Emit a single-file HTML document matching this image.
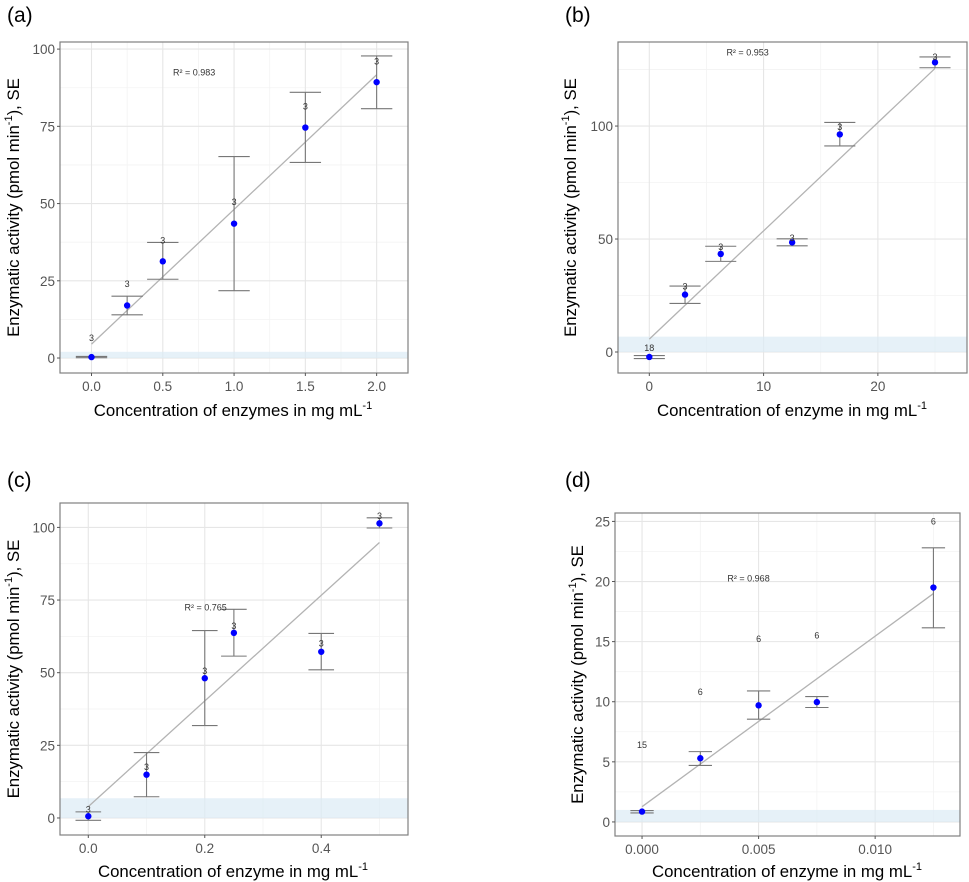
<!DOCTYPE html>
<html><head><meta charset="utf-8"><style>
body{margin:0;background:#fff}
svg{display:block;font-family:"Liberation Sans",Arial,sans-serif}
</style></head><body>
<svg id="fig" width="969" height="882" viewBox="0 0 969 882" xmlns="http://www.w3.org/2000/svg"></svg>
<script>
// Panel a
const aX=[0,0.25,0.5,1,1.5,2];
const aY=[0.3,17,31.3,43.5,74.6,89.3];
const aHi=[0.5,20,37.4,65.2,86,97.8];
const aLo=[0.1,14,25.5,21.8,63.3,80.7];
const aN=["3","3","3","3","3","3"];
const aNY=[6.5,24,38,50.5,81.5,96];
const aFit=[4.5,91.7];
const aXTicks=[0,0.5,1,1.5,2];const aXLab=["0.0","0.5","1.0","1.5","2.0"];
const aYTicks=[0,25,50,75,100];
// Panel b
const bX=[0,3.125,6.25,12.5,16.67,25];
const bY=[-2.2,25.4,43.4,48.5,96.3,128.2];
const bHi=[-1.6,29.2,46.8,50.1,101.6,130.6];
const bLo=[-2.9,21.5,40.1,47.0,91.2,125.8];
const bN=["18","3","3","3","3","3"];
const bNY=[1.8,29,46.5,50.5,99.5,130.5];
const bFit=[5.7,125.5];
const bXTicks=[0,10,20];const bXLab=["0","10","20"];
const bYTicks=[0,50,100];
// Panel c
const cX=[0,0.1,0.2,0.25,0.4,0.5];
const cY=[0.6,14.9,48.1,63.7,57.2,101.4];
const cHi=[2.1,22.5,64.5,71.8,63.5,103.3];
const cLo=[-0.8,7.3,31.8,55.7,51.0,99.8];
const cN=["3","3","3","3","3","3"];
const cNY=[3,17.5,50.5,66,60,104];
const cFit=[3.9,94.8];
const cXTicks=[0,0.2,0.4];const cXLab=["0.0","0.2","0.4"];
const cYTicks=[0,25,50,75,100];
// Panel d
const dX=[0,0.0025,0.005,0.0075,0.0125];
const dY=[0.86,5.3,9.7,9.97,19.5];
const dHi=[0.95,5.85,10.9,10.43,22.8];
const dLo=[0.75,4.7,8.55,9.52,16.15];
const dN=["15","6","6","6","6"];
const dNY=[6.4,10.8,15.2,15.5,25];
const dFit=[1.27,19.0];
const dXTicks=[0,0.005,0.01];const dXLab=["0.000","0.005","0.010"];
const dYTicks=[0,5,10,15,20,25];

const NS="http://www.w3.org/2000/svg";
const svg=document.getElementById('fig');
function mk(t,a,p){const e=document.createElementNS(NS,t);for(const k in a)e.setAttribute(k,a[k]);(p||svg).appendChild(e);return e;}

function panel(P){
  const g=mk('g',{});
  
  
  const sx=v=>P.L+(v-P.x0)/(P.x1-P.x0)*(P.R-P.L);
  const sy=v=>P.B-(v-P.y0)/(P.y1-P.y0)*(P.B-P.T);
  const bg=mk('rect',{x:P.L,y:P.T,width:P.R-P.L,height:P.B-P.T,fill:'#fff'},g);
  
  
  const xs=P.xt, ys=P.yt, dx=xs[1]-xs[0], dy=ys[1]-ys[0];
  for(let v=xs[0]-dx/2;v<=P.x1;v+=dx){if(v>=P.x0)mk('line',{x1:sx(v),x2:sx(v),y1:P.T,y2:P.B,stroke:'#f3f3f3','stroke-width':0.8},g);}
  for(let v=ys[0]-dy/2;v<=P.y1;v+=dy){if(v>=P.y0)mk('line',{x1:P.L,x2:P.R,y1:sy(v),y2:sy(v),stroke:'#f3f3f3','stroke-width':0.8},g);}
  xs.forEach(v=>mk('line',{x1:sx(v),x2:sx(v),y1:P.T,y2:P.B,stroke:'#e6e6e6','stroke-width':1.1},g));
  ys.forEach(v=>mk('line',{x1:P.L,x2:P.R,y1:sy(v),y2:sy(v),stroke:'#e6e6e6','stroke-width':1.1},g));
  const band=mk('rect',{x:P.L,y:sy(P.band),width:P.R-P.L,height:sy(0)-sy(P.band),fill:'#dcebf5',opacity:0.7},g);
  
  
  const fit=mk('line',{x1:sx(P.X[0]),y1:sy(P.fit[0]),x2:sx(P.X[P.X.length-1]),y2:sy(P.fit[1]),stroke:'#b3b3b3','stroke-width':1.3},g);
  
  
  P.X.forEach((x,i)=>{
    const eg=mk('g',{stroke:'#777','stroke-width':1.1},g);
    
    
    mk('line',{x1:sx(x),x2:sx(x),y1:sy(P.hi[i]),y2:sy(P.lo[i])},eg);
    mk('line',{x1:sx(x-P.cap),x2:sx(x+P.cap),y1:sy(P.hi[i]),y2:sy(P.hi[i])},eg);
    mk('line',{x1:sx(x-P.cap),x2:sx(x+P.cap),y1:sy(P.lo[i]),y2:sy(P.lo[i])},eg);
  });
  P.X.forEach((x,i)=>{
    const c=mk('circle',{cx:sx(x),cy:sy(P.Y[i]),r:3.2,fill:'#0000ff'},g);
    
    
    const t=mk('text',{x:sx(x),y:sy(P.nY[i])+3,'font-size':9,fill:'#333','text-anchor':'middle'},g);
    
    
    t.textContent=P.n[i];
  });
  const r=mk('text',{x:sx(P.r2[0]),y:sy(P.r2[1])+3,'font-size':9,fill:'#333','text-anchor':'middle'},g);
  
  
  r.textContent=P.r2t;
  const bd=mk('rect',{x:P.L,y:P.T,width:P.R-P.L,height:P.B-P.T,fill:'none',stroke:'#808080','stroke-width':1.2},g);
  
  
  xs.forEach((v,i)=>{
    mk('line',{x1:sx(v),x2:sx(v),y1:P.B,y2:P.B+3,stroke:'#555'},g);
    const t=mk('text',{x:sx(v),y:P.B+18,'font-size':13.5,fill:'#555','text-anchor':'middle'},g);
    
    
    t.textContent=P.xl[i];
  });
  ys.forEach(v=>{
    mk('line',{x1:P.L-3,x2:P.L,y1:sy(v),y2:sy(v),stroke:'#555'},g);
    const t=mk('text',{x:P.L-5,y:sy(v)+5,'font-size':13.5,fill:'#555','text-anchor':'end'},g);
    
    
    t.textContent=String(v);
  });
  const xt=mk('text',{x:P.xtx,y:P.xty,'font-size':16.8,fill:'#000','text-anchor':'middle'},g);
  
  
  xt.innerHTML=P.xtitle+' mL<tspan font-size="11" dy="-7">-1</tspan>';
  const cy=(P.T+P.B)/2;
  const yt=mk('text',{x:P.ytx,y:cy,'font-size':16.8,fill:'#000','text-anchor':'middle',transform:'rotate(-90 '+P.ytx+' '+cy+')'},g);
  
  
  yt.innerHTML='Enzymatic activity (pmol min<tspan font-size="11" dy="-7">-1</tspan><tspan dy="7">), SE</tspan>';
  const pl=mk('text',{x:P.plx,y:P.ply,'font-size':21,fill:'#000'},g);
  
  
  pl.textContent='('+P.id+')';
}
panel({id:'a',L:60,R:408,T:42,B:373,x0:-0.221,x1:2.22,y0:-4.85,y1:102.3,X:aX,Y:aY,hi:aHi,lo:aLo,n:aN,nY:aNY,fit:aFit,xt:aXTicks,xl:aXLab,yt:aYTicks,band:2,cap:0.11,r2:[0.72,92.5],r2t:'R² = 0.983',xtitle:'Concentration of enzymes in mg',xtx:233,xty:416,ytx:19,plx:7,ply:22});
panel({id:'b',L:618,R:967,T:42,B:373,x0:-2.74,x1:27.8,y0:-9.3,y1:137.2,X:bX,Y:bY,hi:bHi,lo:bLo,n:bN,nY:bNY,fit:bFit,xt:bXTicks,xl:bXLab,yt:bYTicks,band:6.8,cap:1.36,r2:[8.6,132.5],r2t:'R² = 0.953',xtitle:'Concentration of enzyme in mg',xtx:792,xty:416,ytx:576,plx:565,ply:22});
panel({id:'c',L:60,R:408,T:503,B:835,x0:-0.0486,x1:0.549,y0:-5.86,y1:108.4,X:cX,Y:cY,hi:cHi,lo:cLo,n:cN,nY:cNY,fit:cFit,xt:cXTicks,xl:cXLab,yt:cYTicks,band:6.8,cap:0.022,r2:[0.2015,72.4],r2t:'R² = 0.765',xtitle:'Concentration of enzyme in mg',xtx:233,xty:877,ytx:19,plx:7,ply:487});
panel({id:'d',L:615,R:960,T:513,B:836,x0:-0.00116,x1:0.01364,y0:-1.17,y1:25.7,X:dX,Y:dY,hi:dHi,lo:dLo,n:dN,nY:dNY,fit:dFit,xt:dXTicks,xl:dXLab,yt:dYTicks,band:1,cap:0.0005,r2:[0.00457,20.26],r2t:'R² = 0.968',xtitle:'Concentration of enzyme in mg',xtx:787,xty:877,ytx:583,plx:565,ply:487});
</script>
</body></html>
